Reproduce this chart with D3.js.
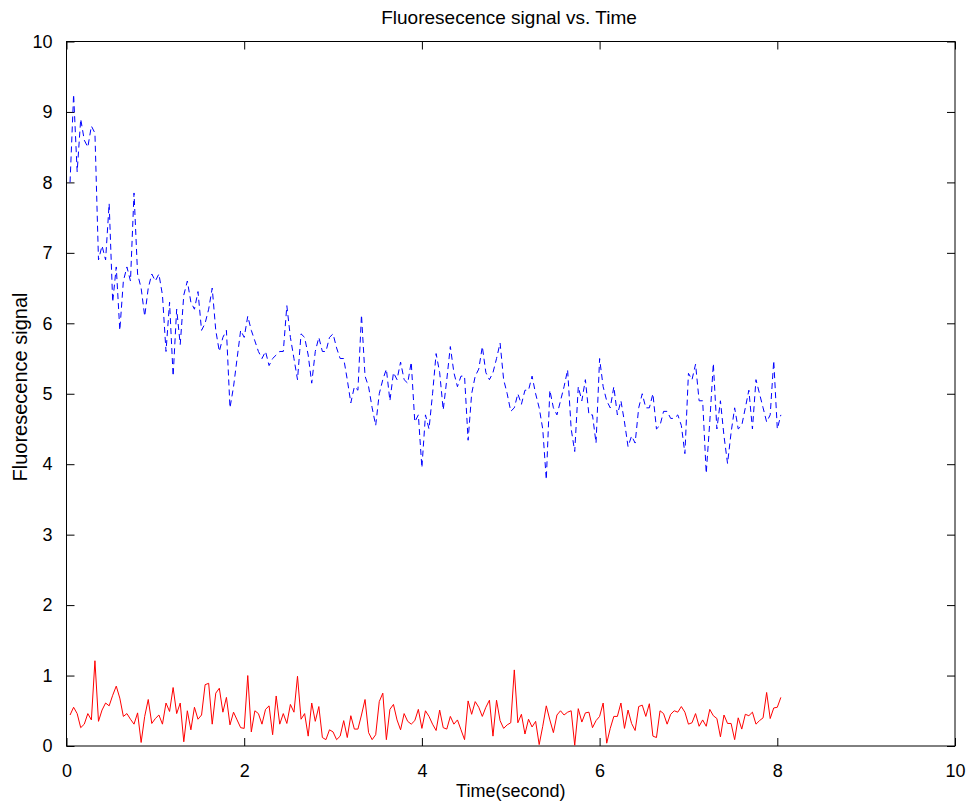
<!DOCTYPE html>
<html><head><meta charset="utf-8">
<script src="https://cdn.jsdelivr.net/npm/d3@7"></script>
<style>body{margin:0;background:#fff}svg{display:block}text{font-family:"Liberation Sans",Arial,sans-serif}</style>
</head><body><svg id="c" width="968" height="806"></svg>
<script>
const sampleStep = 0.04; // seconds between samples, first sample at 0.04 s
const blueSignal = [
8.0,9.25,8.15,8.9,8.6,8.5,8.8,8.7,6.9,7.1,
6.9,7.7,6.3,6.8,5.9,6.6,6.8,6.6,7.85,6.7,
6.5,6.1,6.5,6.7,6.6,6.7,6.4,5.6,6.3,5.25,
6.2,5.7,6.4,6.6,6.3,6.2,6.45,5.9,6.0,6.2,
6.5,5.9,5.6,5.8,5.9,4.8,5.1,5.5,5.9,5.8,
6.1,5.9,5.75,5.6,5.5,5.6,5.4,5.5,5.55,5.6,
5.6,6.25,5.8,5.5,5.2,5.85,5.8,5.55,5.15,5.6,
5.8,5.6,5.6,5.8,5.85,5.65,5.5,5.5,5.2,4.87,
5.1,5.05,6.12,5.25,5.1,4.8,4.55,5.0,5.2,5.35,
4.9,5.3,5.2,5.45,5.2,5.15,5.45,4.6,4.7,3.95,
4.7,4.5,5.0,5.57,5.3,4.77,5.2,5.67,5.3,5.1,
5.25,5.25,4.34,5.0,5.25,5.35,5.67,5.3,5.2,5.3,
5.5,5.72,5.2,5.0,4.75,4.8,5.0,4.85,5.05,5.05,
5.25,5.0,4.8,4.5,3.78,5.05,4.8,4.7,4.9,5.1,
5.34,4.5,4.18,5.1,4.9,5.2,4.7,4.7,4.3,5.5,
5.1,4.9,4.8,5.1,4.7,4.9,4.6,4.25,4.4,4.3,
4.8,5.0,4.8,4.8,5.0,4.5,4.55,4.75,4.75,4.65,
4.65,4.7,4.55,4.15,5.29,5.2,5.42,4.9,4.9,3.87,
4.6,5.43,4.5,4.9,4.4,4.01,4.45,4.8,4.5,4.55,
4.8,5.05,4.5,5.2,5.0,4.8,4.6,4.7,5.47,4.5,
4.7];
const redSignal = [
0.44,0.55,0.46,0.26,0.31,0.46,0.37,1.21,0.35,0.51,
0.61,0.57,0.72,0.85,0.68,0.42,0.46,0.38,0.31,0.47,
0.05,0.42,0.66,0.32,0.39,0.44,0.31,0.61,0.49,0.83,
0.46,0.61,0.06,0.50,0.23,0.55,0.38,0.44,0.87,0.89,
0.31,0.75,0.82,0.48,0.69,0.30,0.48,0.37,0.26,0.25,
1.00,0.20,0.50,0.46,0.31,0.52,0.57,0.16,0.71,0.31,
0.46,0.32,0.59,0.48,0.99,0.38,0.46,0.14,0.61,0.35,
0.56,0.12,0.09,0.23,0.20,0.09,0.14,0.36,0.12,0.43,
0.24,0.24,0.44,0.66,0.19,0.09,0.16,0.63,0.75,0.09,
0.52,0.59,0.37,0.23,0.46,0.35,0.31,0.36,0.52,0.25,
0.50,0.42,0.31,0.22,0.51,0.26,0.24,0.42,0.31,0.37,
0.23,0.09,0.64,0.45,0.63,0.55,0.42,0.55,0.65,0.14,
0.65,0.36,0.25,0.30,0.33,1.08,0.33,0.45,0.17,0.38,
0.27,0.35,0.02,0.28,0.57,0.37,0.19,0.44,0.50,0.44,
0.48,0.50,0.01,0.53,0.34,0.47,0.48,0.26,0.36,0.42,
0.61,0.04,0.25,0.42,0.42,0.61,0.25,0.51,0.32,0.22,
0.56,0.58,0.42,0.60,0.14,0.12,0.50,0.46,0.31,0.45,
0.50,0.48,0.56,0.48,0.31,0.33,0.46,0.28,0.37,0.28,
0.52,0.43,0.39,0.13,0.44,0.32,0.32,0.09,0.40,0.24,
0.45,0.43,0.48,0.31,0.36,0.40,0.76,0.39,0.54,0.55,
0.69];
const xTicks = [0,2,4,6,8,10];
const yTicks = [0,1,2,3,4,5,6,7,8,9,10];
const titleText = "Fluoresecence signal vs. Time";
const xLabel = "Time(second)";
const yLabel = "Fluoresecence signal";

const L = 66.5, R = 955, T = 41.5, B = 746;
const svg = d3.select("#c");
const x = d3.scaleLinear().domain([0,10]).range([L,R]);
const y = d3.scaleLinear().domain([0,10]).range([B,T]);
const tOf = i => (i+1)*sampleStep;

const tl = 8;
function styleAxis(g){ g.select(".domain").remove(); g.selectAll("line").attr("stroke","#000"); g.selectAll("text").attr("fill","#000").attr("font-size","18px"); }
svg.append("g").attr("transform",`translate(0,${B})`)
  .call(d3.axisBottom(x).tickValues(xTicks).tickSize(-tl).tickPadding(18).tickFormat(d3.format("d")))
  .call(styleAxis);
svg.append("g").attr("transform",`translate(0,${T})`)
  .call(d3.axisTop(x).tickValues(xTicks).tickSize(-tl).tickFormat(""))
  .call(styleAxis);
svg.append("g").attr("transform",`translate(${L},0)`)
  .call(d3.axisLeft(y).tickValues(yTicks).tickSize(-tl).tickPadding(14).tickFormat(d3.format("d")))
  .call(styleAxis);
svg.append("g").attr("transform",`translate(${R},0)`)
  .call(d3.axisRight(y).tickValues(yTicks).tickSize(-tl).tickFormat(""))
  .call(styleAxis);
svg.append("rect").attr("x",L).attr("y",T).attr("width",R-L).attr("height",B-T)
  .attr("fill","none").attr("stroke","#000").attr("stroke-width",1);

const line = d3.line().x((d,i)=>x(tOf(i))).y(d=>y(d));
svg.append("path").datum(blueSignal).attr("d",line).attr("fill","none")
  .attr("stroke","#0000ff").attr("stroke-width",1).attr("stroke-dasharray","6,4");
svg.append("path").datum(redSignal).attr("d",line).attr("fill","none")
  .attr("stroke","#ff0000").attr("stroke-width",1);

svg.append("text").attr("x",509).attr("y",24).attr("text-anchor","middle").attr("font-size","19px").text(titleText);
svg.append("text").attr("x",(L+R)/2).attr("y",797).attr("text-anchor","middle").attr("font-size","18px").text(xLabel);
svg.append("text").attr("transform",`translate(27,387) rotate(-90)`).attr("text-anchor","middle").attr("font-size","20px").text(yLabel);
</script></body></html>
